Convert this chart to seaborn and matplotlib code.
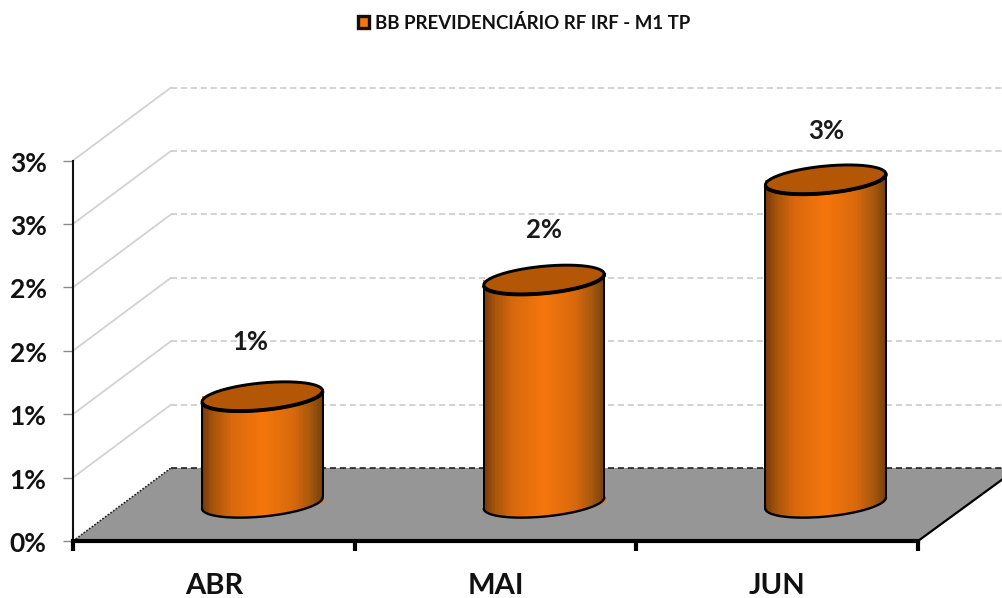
import numpy as np
import pandas as pd
import matplotlib
matplotlib.use("Agg")
import matplotlib.pyplot as plt
import seaborn as sns
from matplotlib.path import Path
from matplotlib.patches import PathPatch, Patch, Polygon
from matplotlib.transforms import Affine2D
from matplotlib.colors import LinearSegmentedColormap

# data
meses = ["ABR", "MAI", "JUN"]
valores = [0.84, 1.76, 2.55]
rotulos = ["1%", "2%", "3%"]
y_ticks = [0, 0.5, 1, 1.5, 2, 2.5, 3]
y_labels = ["0%", "1%", "1%", "2%", "2%", "3%", "3%"]
serie = "BB PREVIDENCIÁRIO RF IRF - M1 TP"
rotulo_dx = [-12, 0, 1]
rotulo_dy = [54, 50, 49]

W, H = 1002, 598
sns.set_theme(style="white")
plt.rcParams["font.family"] = ["Lato", "DejaVu Sans"]
fig = plt.figure(figsize=(W / 100, H / 100), dpi=100, facecolor="white")
AX_L, AX_R, AX_T, AX_B = 73, 918, 160.5, 541
ax = fig.add_axes([AX_L / W, (H - AX_B) / H, (AX_R - AX_L) / W, (AX_B - AX_T) / H])
ax.patch.set_alpha(0)
df = pd.DataFrame({"mes": meses, "valor": valores})
sns.barplot(data=df, x="mes", y="valor", order=meses, color="#f5760c", saturation=1,
            width=0.43, ax=ax, zorder=3, err_kws={"linewidth": 0})
ax.set_xlim(-0.5, 2.5)
ax.set_ylim(0, 3)
ax.autoscale(False)
ax.set_xlabel("")
ax.set_ylabel("")

px = Affine2D().scale(1, -1).translate(0, H)  # picture pixels to display
DX, DY = 98, 73          # depth of the 3D box
BX, BY = 48.5, 38        # depth of the cylinders' base

# walls and floor
floor = [(AX_L, AX_B), (AX_L + DX, AX_B - DY), (AX_R + DX + 2, AX_B - DY), (AX_R, AX_B)]
ax.add_patch(Polygon(floor, closed=True, facecolor="#969696", edgecolor="none",
                     transform=px, clip_on=False, zorder=1))
ax.plot([floor[0][0], floor[1][0]], [floor[0][1], floor[1][1]], transform=px, clip_on=False,
        color="#222222", lw=1.2, ls=(0, (1, 1)), zorder=1.5)
ax.plot([floor[1][0], floor[2][0]], [floor[1][1], floor[2][1]], transform=px, clip_on=False,
        color="#111111", lw=1.1, ls=(0, (4, 2.5)), zorder=1.5)
ax.plot([floor[3][0], floor[2][0]], [floor[3][1], floor[2][1]], transform=px, clip_on=False,
        color="black", lw=1.6, zorder=1.5)
for v in y_ticks[1:]:
    yp = H - ax.transData.transform((0, v))[1]
    ax.plot([AX_L, AX_L + DX], [yp, yp - DY], transform=px, clip_on=False,
            color="#d2d2d2", lw=1.3, zorder=1)
    ax.plot([AX_L + DX, W], [yp - DY, yp - DY], transform=px, clip_on=False,
            color="#c8c8c8", lw=1.1, ls=(0, (4, 2.5)), zorder=1)

# cylinders built on the seaborn bars
cmap = LinearSegmentedColormap.from_list("cil", [
    (0.00, "#75390a"), (0.10, "#a8550b"), (0.25, "#da680c"), (0.50, "#f5760c"),
    (0.75, "#d9690c"), (0.90, "#a5570e"), (1.00, "#75400a")])
theta = np.deg2rad(5.5)
u = np.array([np.cos(theta), -np.sin(theta)])
n = np.array([np.sin(theta), np.cos(theta)])
B = 13.5
shift = ax.transData + Affine2D().translate(BX, BY)


def ell(c, a, t):
    return np.outer(np.cos(t), a * u) + np.outer(np.sin(t), B * n) + c


bars = list(ax.patches)
for p, lab, ldx, ldy in zip(bars, rotulos, rotulo_dx, rotulo_dy):
    p.set_transform(shift)
    p.set_linewidth(0)
    (x0, y0), (x1, y1) = shift.transform([(p.get_x(), 0), (p.get_x() + p.get_width(), p.get_height())])
    xl, xr = x0, x1
    yb, yt = H - y0, H - y1
    a = (xr - xl) / 2
    cx = (xl + xr) / 2
    base = np.array([cx, yb])
    top = np.array([cx, yt])
    low = ell(base, a, np.linspace(np.pi, 0, 80))
    up = ell(top, a, np.linspace(0, -np.pi, 80))
    body = np.vstack([low, up, low[:1]])
    xs = np.linspace(xl - 1, xr + 1, 90)
    ys = [yt - B - 4, yb + B + 4]
    mesh = ax.pcolormesh(xs, ys, np.linspace(0, 1, 89)[None, :], cmap=cmap, vmin=0, vmax=1,
                         transform=px, zorder=3.2, shading="flat")
    mesh.set_clip_box(None)
    mesh.set_clip_path(Path(body), transform=px)
    # outline: base rim and the two sides
    ax.plot(low[:, 0], low[:, 1], transform=px, color="black", lw=1.7, clip_on=False, zorder=3.4)
    ax.plot([low[0, 0], up[-1, 0]], [low[0, 1], up[-1, 1]], transform=px, color="black", lw=1.4,
            clip_on=False, zorder=3.4)
    ax.plot([low[-1, 0], up[0, 0]], [low[-1, 1], up[0, 1]], transform=px, color="black", lw=1.4,
            clip_on=False, zorder=3.4)
    # cap
    t = np.linspace(0, 2 * np.pi, 160)
    ax.add_patch(PathPatch(Path(ell(top, a, t), closed=True), facecolor="#b35706", edgecolor="none",
                           transform=px, clip_on=False, zorder=3.5))
    ax.plot(*ell(top, a, t).T, transform=px, color="black", lw=2.1, clip_on=False, zorder=3.6)
    front = ell(top, a, np.linspace(0.1, np.pi - 0.1, 80))
    ax.plot(*front.T, transform=px, color="black", lw=2.8, clip_on=False, zorder=3.7)
    ax.text(cx + ldx, yt - ldy, lab, transform=px, ha="center", va="center", fontsize=18.5,
            fontweight="bold", color="#1a1a1a", clip_on=False, zorder=5)

# axes furniture
sns.despine(ax=ax, top=True, right=True)
ax.spines["left"].set_linewidth(1.5)
ax.spines["left"].set_color("#111111")
ax.spines["bottom"].set_linewidth(3)
ax.spines["bottom"].set_color("black")
ax.spines["left"].set_zorder(6)
ax.spines["bottom"].set_zorder(6)
ax.set_yticks(y_ticks, labels=y_labels)
ax.tick_params(axis="y", length=7, width=1.0, color="#8a8a8a", pad=12, left=True,
               labelsize=19, labelcolor="#111111")
for tl in ax.get_yticklabels():
    tl.set_fontweight("bold")
    tl.set_verticalalignment("center")
    tl.set_transform(tl.get_transform() + Affine2D().translate(0, -3))
ax.set_xticks(range(len(meses)), labels=meses)
ax.tick_params(axis="x", which="major", length=0, pad=23, labelsize=21, labelcolor="#111111")
for tl in ax.get_xticklabels():
    tl.set_fontweight("bold")
ax.set_xticks([-0.5, 0.5, 1.5, 2.5], minor=True)
ax.tick_params(axis="x", which="minor", length=7, width=3, color="black", bottom=True)

# legend
leg = fig.legend(handles=[Patch(facecolor="#f5760c", edgecolor="#111111", linewidth=2.4, label=serie)],
                 loc="center", bbox_to_anchor=(524 / W, 1 - 23 / H), frameon=False, ncol=1,
                 handlelength=0.62, handleheight=0.62, handletextpad=0.3, borderpad=0,
                 prop={"size": 13.4, "weight": "bold"}, labelcolor="#111111")

fig.savefig("out.png", dpi=100, facecolor="white")
